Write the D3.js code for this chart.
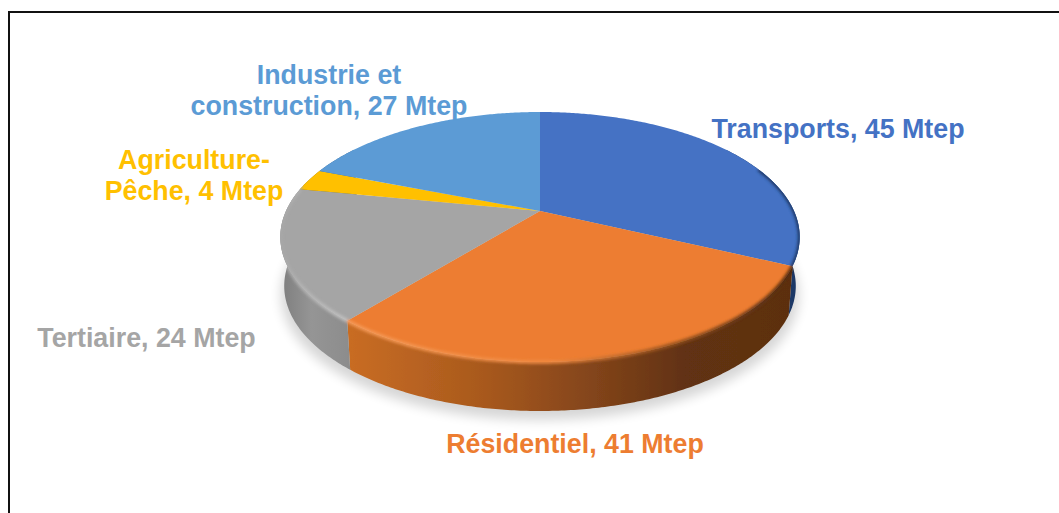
<!DOCTYPE html>
<html><head><meta charset="utf-8">
<style>html,body{margin:0;padding:0;background:#fff;overflow:hidden}text{font-family:"Liberation Sans",Arial,sans-serif;font-weight:700;font-size:26.8px}</style>
<script src="https://cdn.jsdelivr.net/npm/d3@7"></script></head><body>
<svg id="c" width="1059" height="513"></svg>
<script>
const categories=["Transports","Résidentiel","Tertiaire","Agriculture-Pêche","Industrie et construction"];
const values=[45,41,24,4,27];
const colors=["#4472c4","#ed7d31","#a5a5a5","#ffc000","#5b9bd5"];
const labelLines=[["Transports, 45 Mtep"],["Résidentiel, 41 Mtep"],["Tertiaire, 24 Mtep"],["Agriculture-","Pêche, 4 Mtep"],["Industrie et","construction, 27 Mtep"]];
const labelX=[838,575,146.5,194,329];
const labelY=[138,453,347,169,84];
const wallStops=[
 [["0","#1c3766"],["1","#1c3766"]],
 [["0","#c86c24"],["0.3","#a8591d"],["0.55","#82441a"],["0.75","#623212"],["1","#5c2f10"]],
 [["0","#7f7f7f"],["0.4","#959595"],["1","#8b8b8b"]],
 [["0","#8f6f10"],["1","#8f6f10"]],
 [["0","#3d6b96"],["1","#3d6b96"]]];
const rimStops=[
 [["0","#1b3461"],["1","#1b3461"]],
 [["0","#f59a58"],["0.45","#f08a42"],["0.7","#9a5420"],["1","#4f290e"]],
 [["0","#a8a8a8"],["0.3","#b5b5b5"],["1","#c4c4c4"]],
 [["0","#a5a5a5"],["1","#a5a5a5"]],
 [["0","#5b9bd5"],["1","#5b9bd5"]]];

const svg=d3.select("#c");
svg.append("rect").attr("x",9).attr("y",12).attr("width",1100).attr("height",600)
 .attr("fill","#fff").attr("stroke","#111").attr("stroke-width",2);

// perspective projection of the unit disc onto the chart plane
const cx=540,apexY=211,persp=-0.208,vScale=75.7,uScale=254,depth=49,taper=0.985;
const project=(a,r=1)=>{const u=r*Math.sin(a),v=-r*Math.cos(a),w=1+persp*v;
  return [cx+uScale*u/w,(apexY+vScale*v)/w];};
const projectBase=a=>{const p=project(a);return [cx+(p[0]-cx)*taper,p[1]+depth];};
const sample=(a0,a1)=>{const n=Math.max(2,Math.ceil((a1-a0)/0.01));return d3.range(n+1).map(i=>a0+(a1-a0)*i/n);};
const line=d3.line();
const arcs=d3.pie().sort(null).value(d=>d)(values);

const defs=svg.append("defs");
const blur=(id,s)=>defs.append("filter").attr("id",id).attr("x","-20%").attr("y","-20%").attr("width","140%").attr("height","140%")
 .append("feGaussianBlur").attr("stdDeviation",s);
blur("sh",6);blur("rim",1.6);blur("soft",0.5);
const grad=(id,stops,x1,x2)=>{const g=defs.append("linearGradient").attr("id",id).attr("gradientUnits","userSpaceOnUse")
 .attr("x1",x1).attr("x2",x2).attr("y1",0).attr("y2",0);
 stops.forEach(s=>g.append("stop").attr("offset",s[0]).attr("stop-color",s[1]));};
const gradRange=[[760,800],[351,795],[282,355],[300,320],[320,540]];
arcs.forEach((d,i)=>{grad("w"+i,wallStops[i],...gradRange[i]);grad("r"+i,rimStops[i],...gradRange[i]);});

// cast shadow
const ring=sample(0,2*Math.PI);
svg.append("path").attr("d",line(ring.map(a=>{const p=projectBase(a);return [cx+(p[0]-cx)*1.012,p[1]+9];}))+"Z")
 .attr("fill","#000").attr("opacity",.16).attr("filter","url(#sh)");

const pie=svg.append("g").attr("filter","url(#soft)");
const nearMin=55*Math.PI/180,nearMax=305*Math.PI/180;
const wallD=d=>{const a0=Math.max(d.startAngle,nearMin),a1=Math.min(d.endAngle,nearMax);
   if(a1<=a0)return null;const s=sample(a0,a1);
   return line(s.map(a=>project(a)).concat(s.slice().reverse().map(projectBase)))+"Z";};
const apex=project(0,0);
const topD=d=>line([apex].concat(sample(d.startAngle,d.endAngle).map(a=>project(a))))+"Z";

// silhouette clip for the bevel
const clip=defs.append("clipPath").attr("id","sil");
arcs.forEach(d=>{clip.append("path").attr("d",topD(d));const w=wallD(d);if(w)clip.append("path").attr("d",w);});

// outer walls on the near side
pie.selectAll("path.wall").data(arcs).join("path").attr("class","wall")
 .attr("d",wallD).attr("fill",(d,i)=>`url(#w${i})`);
// top faces
pie.selectAll("path.top").data(arcs).join("path").attr("class","top")
 .attr("d",topD).attr("fill",(d,i)=>colors[i]);
// bevel along the rim
const rimG=pie.append("g").attr("clip-path","url(#sil)").append("g").attr("filter","url(#rim)");
rimG.selectAll("path").data(arcs).join("path")
 .attr("d",d=>{const a0=Math.max(d.startAngle,68*Math.PI/180),a1=Math.min(d.endAngle,282*Math.PI/180);
   if(a1<=a0)return null;return line(sample(a0,a1).map(a=>project(a)));})
 .attr("fill","none").attr("stroke",(d,i)=>`url(#r${i})`).attr("stroke-width",3.5);

// labels
svg.selectAll("text.lab").data(labelLines).join("text").attr("class","lab")
 .attr("fill",(d,i)=>colors[i]).attr("text-anchor","middle")
 .each(function(lines,i){d3.select(this).selectAll("tspan").data(lines).join("tspan")
   .attr("x",labelX[i]).attr("y",(l,j)=>labelY[i]+j*31).text(l=>l);});
</script></body></html>
